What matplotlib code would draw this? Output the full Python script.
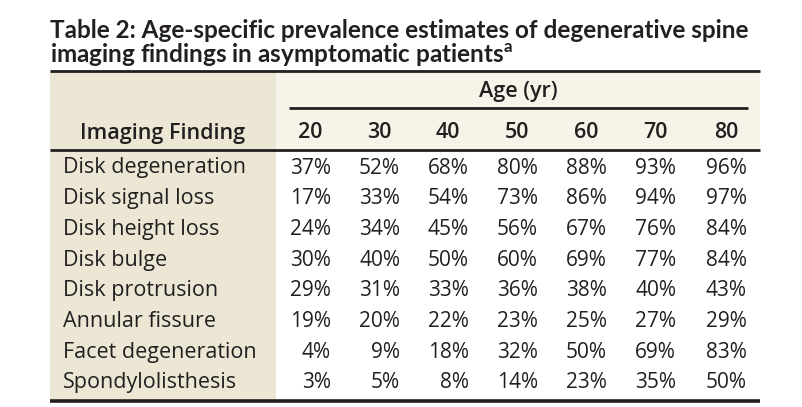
import matplotlib.pyplot as plt
from matplotlib.patches import Rectangle

findings = ["Disk degeneration", "Disk signal loss", "Disk height loss", "Disk bulge",
            "Disk protrusion", "Annular fissure", "Facet degeneration", "Spondylolisthesis"]
ages = ["20", "30", "40", "50", "60", "70", "80"]
prevalence = [
    [37, 52, 68, 80, 88, 93, 96],
    [17, 33, 54, 73, 86, 94, 97],
    [24, 34, 45, 56, 67, 76, 84],
    [30, 40, 50, 60, 69, 77, 84],
    [29, 31, 33, 36, 38, 40, 43],
    [19, 20, 22, 23, 25, 27, 29],
    [4, 9, 18, 32, 50, 69, 83],
    [3, 5, 8, 14, 23, 35, 50],
]
title = ["Table 2: Age-specific prevalence estimates of degenerative spine",
         "imaging findings in asymptomatic patients$^{\\mathregular{a}}$"]

W, H = 802, 407
TEXT = "#231f20"
LEFT_BG = "#ece7d4"
HEAD_BG = "#f6f3e8"
TITLE_FONT = "Lato"
FONT = "Open Sans"

fig = plt.figure(figsize=(W / 100, H / 100), dpi=100)
ax = fig.add_axes([0, 0, 1, 1])
ax.set_xlim(0, W)
ax.set_ylim(H, 0)
ax.axis("off")

x0, x1 = 50, 760
split = 276
top, head_bot, bottom = 71, 150, 401

# backgrounds
ax.add_patch(Rectangle((split, top), x1 - split, head_bot - top, color=HEAD_BG, lw=0))
ax.add_patch(Rectangle((x0, top), split - x0, bottom - top, color=LEFT_BG, lw=0))

# rules
ax.plot([x0, x1], [top, top], color=TEXT, lw=2.0, solid_capstyle="butt")
ax.plot([x0, x1], [head_bot, head_bot], color=TEXT, lw=2.0, solid_capstyle="butt")
ax.plot([x0, x1], [bottom, bottom], color=TEXT, lw=2.6, solid_capstyle="butt")
ax.plot([289, 748], [108, 108], color=TEXT, lw=2.0, solid_capstyle="butt")

# title
ax.text(x0, 30, title[0], fontsize=17.5, fontweight="bold", family=TITLE_FONT, color=TEXT, va="center")
ax.text(x0, 54, title[1], fontsize=17.5, fontweight="bold", family=TITLE_FONT, color=TEXT, va="center")

# header
ax.text(518, 92, "Age (yr)", fontsize=15.5, fontweight="semibold", family=FONT, color=TEXT,
        ha="center", va="center")
ax.text(163, 133, "Imaging Finding", fontsize=15.5, fontweight="semibold", family=FONT, color=TEXT,
        ha="center", va="center")

col_right = [331 + 69 * i for i in range(len(ages))]
col_right[-1] = 747
for i, a in enumerate(ages):
    ax.text(col_right[i] - 21, 133, a, fontsize=15.5, fontweight="semibold", family=FONT,
            color=TEXT, ha="center", va="center")

# body
row_y = [168 + 30.7 * r for r in range(len(findings))]
for r, name in enumerate(findings):
    ax.text(63, row_y[r], name, fontsize=15.5, family=FONT, color=TEXT, va="center")
    for c, v in enumerate(prevalence[r]):
        ax.text(col_right[c], row_y[r], f"{v}%", fontsize=15, family=FONT, color=TEXT,
                ha="right", va="center")

fig.savefig("out.png", dpi=100)
